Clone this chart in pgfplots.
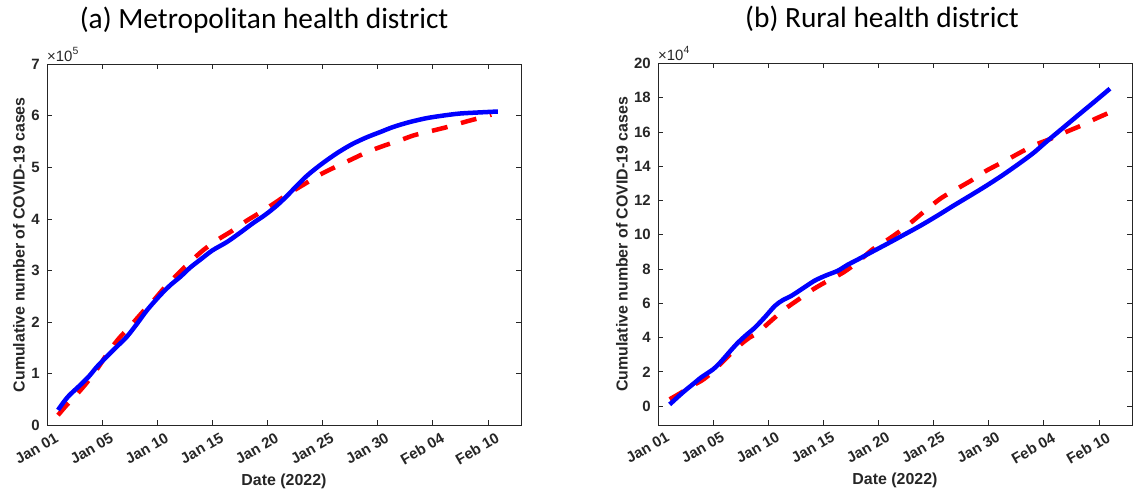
\documentclass[border=0pt]{standalone}
\usepackage{pgfplots}
\pgfplotsset{compat=1.18}
\usepackage{pgfplotstable}
\usepackage{fontspec}
\setmainfont{Liberation Sans}
\newfontfamily\titlefont{Carlito}
\definecolor{axgray}{rgb}{0.15,0.15,0.15}
\definecolor{mblue}{rgb}{0,0,1}
\definecolor{mred}{rgb}{1,0,0}

\pgfplotstableread{
d v
1.0 0.30
1.5 0.45
2.0 0.58
3.0 0.78
3.8 0.95
4.5 1.13
5.4 1.33
6.3 1.52
7.25 1.72
8.2 1.98
9.1 2.24
10.3 2.53
11.2 2.72
12.1 2.88
13.0 3.06
13.9 3.21
15.0 3.39
16.3 3.55
17.5 3.73
18.7 3.92
19.8 4.08
20.8 4.25
21.7 4.43
22.6 4.63
23.5 4.82
24.4 4.98
25.4 5.14
26.5 5.30
27.7 5.45
29.0 5.58
30.2 5.68
31.4 5.78
32.8 5.87
34.4 5.95
35.9 6.00
37.4 6.04
39.0 6.06
40.9 6.08
}\metroblue

\pgfplotstableread{
d v
1.0 0.20
1.8 0.40
2.6 0.58
3.5 0.80
4.5 1.08
5.6 1.43
6.5 1.68
7.5 1.91
8.6 2.18
9.7 2.43
10.7 2.68
11.8 2.92
13.0 3.17
14.2 3.40
15.5 3.60
16.8 3.77
18.0 3.95
19.3 4.12
20.6 4.30
22.0 4.50
23.4 4.68
24.7 4.85
26.1 5.00
27.6 5.15
29.1 5.30
30.6 5.42
32.0 5.52
33.3 5.62
35.0 5.71
36.5 5.79
38.1 5.89
39.7 5.98
40.3 6.02
}\metrored

\pgfplotstableread{
d v
1.06 0.10
1.7 0.48
2.4 0.88
3.2 1.30
3.9 1.67
4.5 1.93
5.0 2.15
5.5 2.45
6.05 2.84
6.6 3.25
7.26 3.71
8.0 4.15
8.8 4.59
9.7 5.20
10.6 5.85
11.3 6.18
12.1 6.44
13.2 6.90
14.2 7.32
15.2 7.62
16.3 7.90
17.2 8.25
18.1 8.55
19.4 9.00
20.75 9.46
22.3 10.00
23.8 10.53
25.3 11.10
26.8 11.70
28.3 12.28
29.8 12.87
31.3 13.50
32.85 14.20
34.1 14.80
35.3 15.47
36.7 16.22
38.0 16.92
39.5 17.72
41.0 18.53
}\ruralblue

\pgfplotstableread{
d v
1.06 0.40
2.0 0.75
3.0 1.15
3.9 1.47
4.5 1.75
5.5 2.35
6.5 3.00
7.5 3.60
8.3 4.00
9.07 4.30
10.2 4.95
11.5 5.66
12.8 6.25
14.1 6.83
15.5 7.35
16.8 7.80
18.1 8.40
19.5 9.17
20.8 9.70
22.0 10.24
23.2 10.85
24.4 11.50
25.7 12.15
27.1 12.68
28.5 13.20
29.8 13.75
31.3 14.25
32.85 14.80
34.2 15.25
35.6 15.60
37.0 16.00
38.3 16.35
39.6 16.75
40.9 17.12
}\ruralred

\pgfplotsset{
  mstyle/.style={
    scale only axis, width=474bp, height=361.5bp,
    xmin=0, xmax=43,
    xtick={0,5,...,40},
    xticklabels={Jan 01,Jan 05,Jan 10,Jan 15,Jan 20,Jan 25,Jan 30,Feb 04,Feb 10},
    tick align=inside, major tick length=5bp,
    axis line style={axgray, line width=0.8bp},
    every tick/.style={axgray, line width=0.8bp},
    ticklabel style={font=\bfseries\fontsize{15}{15}\selectfont, text=axgray},
    /pgf/number format/assume math mode=true,
    xticklabel style={rotate=30, anchor=north east, inner sep=0pt, xshift=3bp, yshift=-9bp},
    yticklabel style={anchor=east, inner sep=0pt, xshift=-7bp},
    label style={font=\bfseries\fontsize{16}{16}\selectfont, text=axgray},
    xlabel={Date (2022)},
    ylabel={Cumulative number of COVID-19 cases},
    xlabel style={at={(axis description cs:0.5,-0.1535)}, anchor=center},
    title style={font=\titlefont\fontsize{29.5}{29.5}\selectfont, anchor=base},
    clip=false,
  },
  blueline/.style={mblue, line width=4.5bp, smooth, no markers},
  redline/.style={mred, line width=4.5bp, dash pattern=on 16bp off 14bp, smooth, no markers},
}

\begin{document}
\begin{tikzpicture}
\useasboundingbox (0,0) rectangle (1140bp,493bp);
\begin{axis}[mstyle,
  at={(47bp,67.5bp)}, anchor=south west,
  ymin=0, ymax=7, ytick={0,1,...,7},
  ylabel style={at={(axis description cs:-0.059,0.5)}, anchor=center},
  title={(a) Metropolitan health district},
  title style={at={(axis description cs:0.458,1.082)}},
]
\addplot[redline] table[x=d,y=v] {\metrored};
\addplot[blueline] table[x=d,y=v] {\metroblue};
\node[anchor=base west, inner sep=0pt, text=axgray, yshift=3bp] at (rel axis cs:0,1)
  {\fontsize{15}{15}\selectfont ×10\raisebox{6.5bp}{\fontsize{10.5}{10.5}\selectfont 5}};
\end{axis}
\begin{axis}[mstyle,
  at={(658bp,68bp)}, anchor=south west,
  ymin=-1.1, ymax=20, ytick={0,2,...,20},
  ylabel style={at={(axis description cs:-0.076,0.5)}, anchor=center},
  title={(b) Rural health district},
  title style={at={(axis description cs:0.4726,1.082)}},
]
\addplot[redline] table[x=d,y=v] {\ruralred};
\addplot[blueline] table[x=d,y=v] {\ruralblue};
\node[anchor=base west, inner sep=0pt, text=axgray, yshift=3bp] at (rel axis cs:0,1)
  {\fontsize{15}{15}\selectfont ×10\raisebox{6.5bp}{\fontsize{10.5}{10.5}\selectfont 4}};
\end{axis}
\end{tikzpicture}
\end{document}
